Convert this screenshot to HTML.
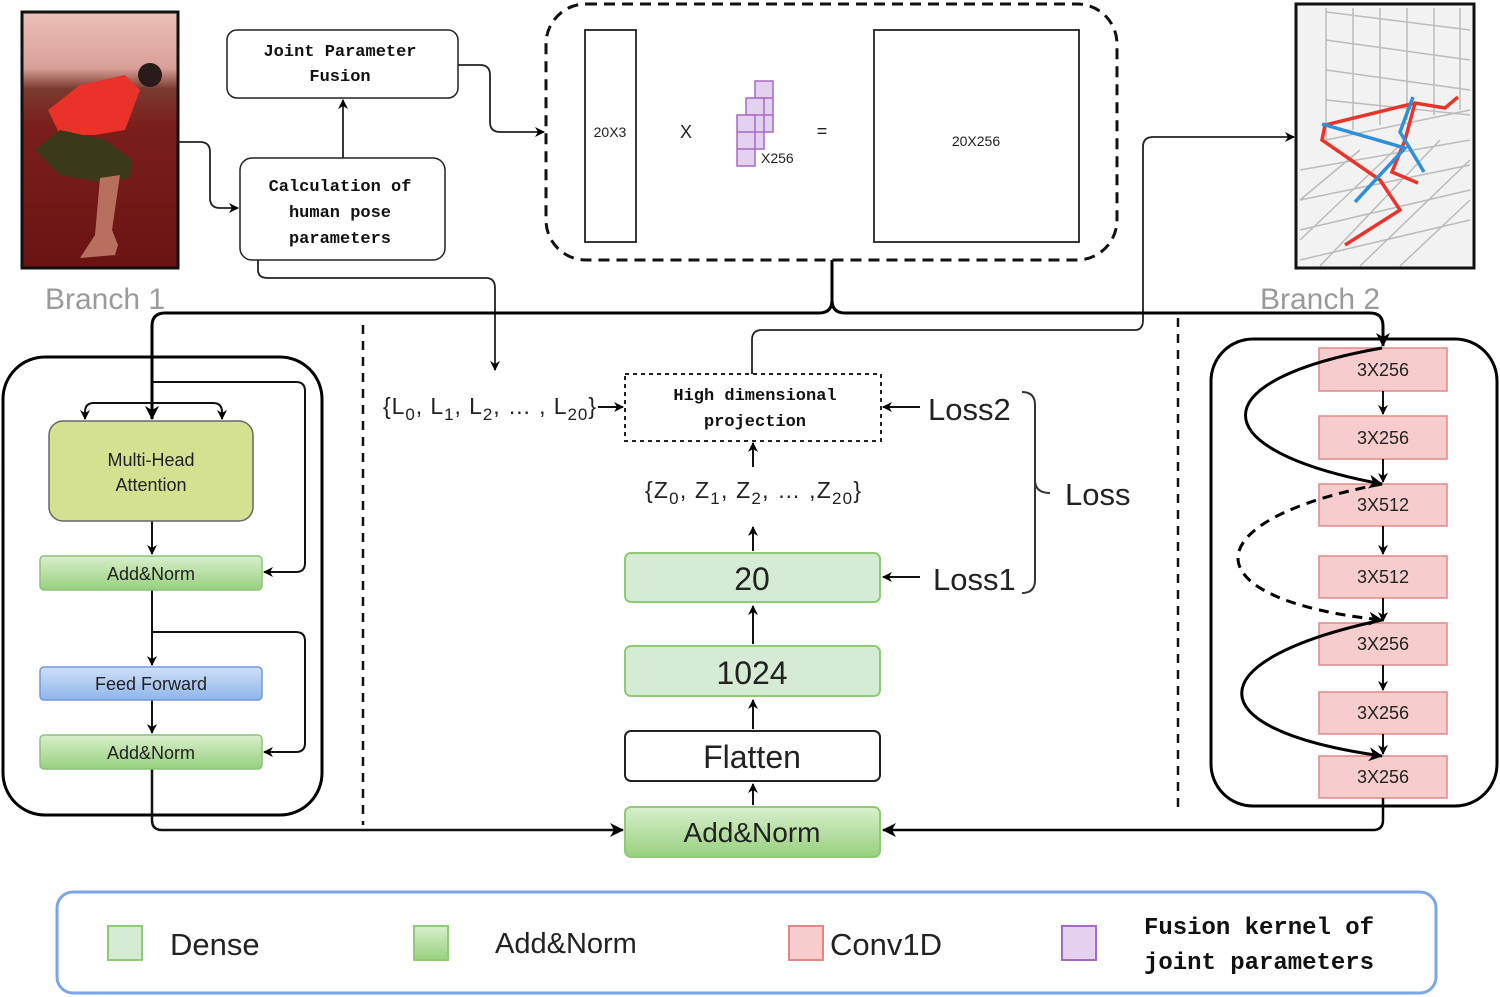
<!DOCTYPE html>
<html><head><meta charset="utf-8"><style>
html,body{margin:0;padding:0;background:#fff}
svg{display:block}
.m{font-family:"Liberation Mono","DejaVu Sans Mono",monospace;font-weight:bold;font-size:17px;fill:#111}
.s{font-family:"Liberation Sans",sans-serif;fill:#222}
</style></head><body>
<svg width="1500" height="997" viewBox="0 0 1500 997" xmlns="http://www.w3.org/2000/svg">
<defs>
<marker id="a" markerWidth="10" markerHeight="10" refX="9" refY="5" orient="auto" markerUnits="userSpaceOnUse"><path d="M0,0 L10,5 L0,10 L3,5 z" fill="#000"/></marker>
<marker id="b" markerWidth="14" markerHeight="14" refX="13" refY="7" orient="auto" markerUnits="userSpaceOnUse"><path d="M0,0 L14,7 L0,14 L4,7 z" fill="#000"/></marker>
<linearGradient id="gn" x1="0" y1="0" x2="0" y2="1"><stop offset="0" stop-color="#d8efcc"/><stop offset="1" stop-color="#98d07e"/></linearGradient>
<linearGradient id="bl" x1="0" y1="0" x2="0" y2="1"><stop offset="0" stop-color="#cfe0f7"/><stop offset="1" stop-color="#8fb5ea"/></linearGradient>
<linearGradient id="ph" x1="0" y1="0" x2="0" y2="1"><stop offset="0" stop-color="#ecc0b8"/><stop offset="0.22" stop-color="#d8a098"/><stop offset="0.3" stop-color="#7a3a30"/><stop offset="0.45" stop-color="#7a1e1a"/><stop offset="1" stop-color="#6a1414"/></linearGradient>
</defs>

<!-- photo -->
<rect x="22" y="12" width="156" height="256" fill="url(#ph)" stroke="#111" stroke-width="3"/>
<path d="M48,110 L80,85 L125,75 L140,90 L125,130 L95,135 L60,135 Z" fill="#e8322a"/>
<path d="M35,150 L60,130 L105,140 L132,160 L130,178 L100,182 L60,175 Z" fill="#3a3a18"/>
<path d="M100,178 L120,175 L112,230 L118,245 L115,255 L80,258 L95,235 Z" fill="#b77060"/>
<circle cx="150" cy="75" r="12" fill="#2a1a1a"/>
<text x="45" y="309" class="s" font-size="30" style="fill:#9a9a9a">Branch 1</text>

<!-- right image -->
<rect x="1296" y="4" width="178" height="264" fill="#f2f2f2" stroke="#111" stroke-width="3"/>
<g stroke="#bbb" stroke-width="1.5" fill="none">
<path d="M1326,8 V140 M1353,8 V130 M1380,8 V125 M1407,8 V120 M1434,8 V115 M1460,8 V110"/>
<path d="M1326,12 L1470,30 M1326,40 L1470,60 M1326,70 L1470,90 M1326,100 L1470,115 M1326,140 L1470,110"/>
<path d="M1300,170 L1470,140 M1300,200 L1470,165 M1300,230 L1470,190 M1300,260 L1470,220"/>
<path d="M1320,266 L1440,140 M1360,266 L1470,160 M1400,266 L1470,200 M1300,200 L1360,150 M1300,240 L1400,145"/>
</g>
<polyline points="1345,245 1400,210 1380,180 1322,140 1325,125 1415,103 1445,108 1458,97" fill="none" stroke="#e8342a" stroke-width="3.5"/>
<polyline points="1415,103 1405,140 1392,172 1418,183" fill="none" stroke="#e8342a" stroke-width="3.5"/>
<polyline points="1355,202 1405,148 1322,124" fill="none" stroke="#2f8fd8" stroke-width="3.5"/>
<polyline points="1413,97 1400,132 1424,172" fill="none" stroke="#2f8fd8" stroke-width="3.5"/>
<text x="1260" y="309" class="s" font-size="30" style="fill:#9a9a9a">Branch 2</text>

<!-- top boxes -->
<rect x="227" y="30" width="231" height="68" rx="10" fill="#fff" stroke="#222" stroke-width="1.5"/>
<text x="340" y="56" class="m" text-anchor="middle">Joint Parameter</text>
<text x="340" y="81" class="m" text-anchor="middle">Fusion</text>
<rect x="240" y="158" width="205" height="102" rx="12" fill="#fff" stroke="#222" stroke-width="1.5"/>
<text x="340" y="191" class="m" text-anchor="middle">Calculation of</text>
<text x="340" y="217" class="m" text-anchor="middle">human pose</text>
<text x="340" y="243" class="m" text-anchor="middle">parameters</text>

<g fill="none" stroke="#222" stroke-width="1.8">
<path d="M178,142 H200 Q210,142 210,152 V198 Q210,208 220,208 H238" marker-end="url(#a)"/>
<path d="M343,158 V100" marker-end="url(#a)"/>
<path d="M458,65 H480 Q490,65 490,75 V122 Q490,132 500,132 H544" marker-end="url(#a)"/>
<path d="M258,260 V270 Q258,278 268,278 H486 Q495,278 495,288 V370" marker-end="url(#a)"/>
<path d="M752,374 V340 Q752,330 762,330 H1135 Q1143,330 1143,320 V147 Q1143,137 1153,137 H1294" marker-end="url(#a)"/>
</g>

<!-- dashed box -->
<rect x="546" y="4" width="571" height="256" rx="40" fill="none" stroke="#111" stroke-width="3" stroke-dasharray="11,7"/>
<rect x="585" y="30" width="51" height="212" fill="none" stroke="#222" stroke-width="1.8"/>
<text x="610" y="137" class="s" font-size="14" text-anchor="middle">20X3</text>
<text x="686" y="138" class="s" font-size="18" text-anchor="middle">X</text>
<g fill="#e4d0ef" stroke="#a66ac4" stroke-width="1.5">
<rect x="755" y="81" width="18" height="51"/><path d="M755,98 H773 M755,115 H773"/>
<rect x="746" y="98" width="18" height="51"/><path d="M746,115 H764 M746,132 H764"/>
<rect x="737" y="115" width="18" height="51"/><path d="M737,132 H755 M737,149 H755"/>
</g>
<text x="761" y="163" class="s" font-size="14">X256</text>
<text x="822" y="137" class="s" font-size="18" text-anchor="middle">=</text>
<rect x="874" y="30" width="205" height="212" fill="none" stroke="#222" stroke-width="1.8"/>
<text x="976" y="146" class="s" font-size="14" text-anchor="middle">20X256</text>

<!-- big brace -->
<path d="M832,260 V300 Q832,313 819,313 H165 Q152,313 152,326 V419" fill="none" stroke="#000" stroke-width="3" marker-end="url(#b)"/>
<path d="M832,300 Q832,313 845,313 H1370 Q1383,313 1383,326 V346" fill="none" stroke="#000" stroke-width="3" marker-end="url(#b)"/>

<!-- dashed separators -->
<path d="M363,325 V825" stroke="#111" stroke-width="2.5" stroke-dasharray="9,7"/>
<path d="M1178,318 V812" stroke="#111" stroke-width="2.5" stroke-dasharray="9,7"/>

<!-- left panel -->
<rect x="3" y="357" width="319" height="458" rx="42" fill="none" stroke="#000" stroke-width="3"/>
<g fill="none" stroke="#111" stroke-width="2">
<path d="M85,419 V412 Q85,403 94,403 H213 Q222,403 222,412 V419" marker-end="url(#a)"/>
<path d="M85,412 V419" marker-end="url(#a)"/>
<path d="M152,382 H296 Q305,382 305,391 V563 Q305,572 296,572 H264" marker-end="url(#a)"/>
<path d="M152,521 V554" marker-end="url(#a)"/>
<path d="M152,590 V665" marker-end="url(#a)"/>
<path d="M152,632 H296 Q305,632 305,641 V743 Q305,752 296,752 H264" marker-end="url(#a)"/>
<path d="M152,700 V733" marker-end="url(#a)"/>
<path d="M152,769 V820 Q152,830 162,830 H623" marker-end="url(#b)" stroke-width="2.5"/>
</g>
<rect x="49" y="421" width="204" height="100" rx="14" fill="#d3e191" stroke="#666" stroke-width="1.5"/>
<text x="151" y="466" class="s" font-size="18" text-anchor="middle">Multi-Head</text>
<text x="151" y="491" class="s" font-size="18" text-anchor="middle">Attention</text>
<rect x="40" y="556" width="222" height="34" rx="4" fill="url(#gn)" stroke="#8cc47a" stroke-width="1.5"/>
<text x="151" y="580" class="s" font-size="18" text-anchor="middle">Add&amp;Norm</text>
<rect x="40" y="667" width="222" height="33" rx="4" fill="url(#bl)" stroke="#6e9adb" stroke-width="1.5"/>
<text x="151" y="690" class="s" font-size="18" text-anchor="middle">Feed Forward</text>
<rect x="40" y="735" width="222" height="34" rx="4" fill="url(#gn)" stroke="#8cc47a" stroke-width="1.5"/>
<text x="151" y="759" class="s" font-size="18" text-anchor="middle">Add&amp;Norm</text>

<!-- center -->
<text x="383" y="414" class="s" font-size="23" textLength="213" lengthAdjust="spacing">{L<tspan font-size="17" dy="6">0</tspan><tspan dy="-6">, L</tspan><tspan font-size="17" dy="6">1</tspan><tspan dy="-6">, L</tspan><tspan font-size="17" dy="6">2</tspan><tspan dy="-6">, … , L</tspan><tspan font-size="17" dy="6">20</tspan><tspan dy="-6">}</tspan></text>
<path d="M598,407 H623" stroke="#111" stroke-width="2" marker-end="url(#a)"/>
<rect x="625" y="374" width="256" height="67" fill="#fff" stroke="#222" stroke-width="2" stroke-dasharray="4,4"/>
<text x="755" y="400" class="m" text-anchor="middle">High dimensional</text>
<text x="755" y="426" class="m" text-anchor="middle">projection</text>
<path d="M920,407 H883" stroke="#111" stroke-width="2" marker-end="url(#a)"/>
<text x="928" y="420" class="s" font-size="31">Loss2</text>
<path d="M753,467 V443" stroke="#111" stroke-width="2" marker-end="url(#a)"/>
<text x="645" y="498" class="s" font-size="23" textLength="216" lengthAdjust="spacing">{Z<tspan font-size="17" dy="6">0</tspan><tspan dy="-6">, Z</tspan><tspan font-size="17" dy="6">1</tspan><tspan dy="-6">, Z</tspan><tspan font-size="17" dy="6">2</tspan><tspan dy="-6">, … ,Z</tspan><tspan font-size="17" dy="6">20</tspan><tspan dy="-6">}</tspan></text>
<path d="M753,551 V527" stroke="#111" stroke-width="2" marker-end="url(#a)"/>
<rect x="625" y="553" width="255" height="49" rx="6" fill="#d5ebd3" stroke="#8fcb77" stroke-width="2"/>
<text x="752" y="590" class="s" font-size="32" text-anchor="middle">20</text>
<path d="M920,577 H883" stroke="#111" stroke-width="2" marker-end="url(#a)"/>
<text x="933" y="590" class="s" font-size="31">Loss1</text>
<path d="M1022,392 Q1035,392 1035,405 V480 Q1035,493 1050,493 M1035,480 Q1035,493 1035,506 V580 Q1035,593 1022,593" fill="none" stroke="#333" stroke-width="2"/>
<text x="1065" y="505" class="s" font-size="31">Loss</text>
<path d="M753,644 V606" stroke="#111" stroke-width="2" marker-end="url(#a)"/>
<rect x="625" y="646" width="255" height="50" rx="6" fill="#d5ebd3" stroke="#8fcb77" stroke-width="2"/>
<text x="752" y="684" class="s" font-size="32" text-anchor="middle">1024</text>
<path d="M753,729 V700" stroke="#111" stroke-width="2" marker-end="url(#a)"/>
<rect x="625" y="731" width="255" height="50" rx="6" fill="#fff" stroke="#222" stroke-width="2"/>
<text x="752" y="768" class="s" font-size="32" text-anchor="middle">Flatten</text>
<path d="M753,805 V784" stroke="#111" stroke-width="2" marker-end="url(#a)"/>
<rect x="625" y="807" width="255" height="50" rx="6" fill="url(#gn)" stroke="#8fcb77" stroke-width="2"/>
<text x="752" y="842" class="s" font-size="28" text-anchor="middle">Add&amp;Norm</text>

<!-- right panel -->
<rect x="1211" y="339" width="286" height="467" rx="42" fill="none" stroke="#000" stroke-width="3"/>
<g fill="#f6cccc" stroke="#e08888" stroke-width="1.5">
<rect x="1319" y="348" width="128" height="43"/>
<rect x="1319" y="416" width="128" height="43"/>
<rect x="1319" y="484" width="128" height="42"/>
<rect x="1319" y="556" width="128" height="42"/>
<rect x="1319" y="623" width="128" height="42"/>
<rect x="1319" y="692" width="128" height="42"/>
<rect x="1319" y="756" width="128" height="42"/>
</g>
<g class="s" font-size="18" text-anchor="middle">
<text x="1383" y="376">3X256</text><text x="1383" y="444">3X256</text><text x="1383" y="511">3X512</text>
<text x="1383" y="583">3X512</text><text x="1383" y="650">3X256</text><text x="1383" y="719">3X256</text><text x="1383" y="783">3X256</text>
</g>
<g fill="none" stroke="#111" stroke-width="2">
<path d="M1383,391 V414" marker-end="url(#a)"/>
<path d="M1383,459 V482" marker-end="url(#a)"/>
<path d="M1383,526 V554" marker-end="url(#a)"/>
<path d="M1383,598 V621" marker-end="url(#a)"/>
<path d="M1383,665 V690" marker-end="url(#a)"/>
<path d="M1383,734 V754" marker-end="url(#a)"/>
</g>
<g fill="none" stroke="#000" stroke-width="3">
<path d="M1382,348 C1200,380 1200,450 1382,484" marker-end="url(#b)"/>
<path d="M1382,484 C1190,520 1190,600 1382,620" stroke-dasharray="10,7" marker-end="url(#b)"/>
<path d="M1382,620 C1195,660 1195,730 1382,756" marker-end="url(#b)"/>
<path d="M1383,798 V820 Q1383,830 1373,830 H883" stroke-width="2.5" marker-end="url(#b)"/>
</g>

<!-- legend -->
<rect x="57" y="892" width="1379" height="101" rx="16" fill="none" stroke="#7aa6e6" stroke-width="3"/>
<rect x="108" y="926" width="34" height="34" fill="#d5ebd3" stroke="#8fcb77" stroke-width="2"/>
<text x="170" y="955" class="s" font-size="31">Dense</text>
<rect x="414" y="926" width="34" height="34" fill="url(#gn)" stroke="#8fcb77" stroke-width="2"/>
<text x="495" y="953" class="s" font-size="29">Add&amp;Norm</text>
<rect x="789" y="926" width="34" height="34" fill="#f6cccc" stroke="#e08888" stroke-width="2"/>
<text x="830" y="955" class="s" font-size="31">Conv1D</text>
<rect x="1062" y="926" width="34" height="34" fill="#e4d0ef" stroke="#a66ac4" stroke-width="2"/>
<text x="1259" y="934" class="m" text-anchor="middle" style="font-size:24px" textLength="230" lengthAdjust="spacing">Fusion kernel of</text>
<text x="1259" y="969" class="m" text-anchor="middle" style="font-size:24px" textLength="230" lengthAdjust="spacing">joint parameters</text>
</svg>
</body></html>
